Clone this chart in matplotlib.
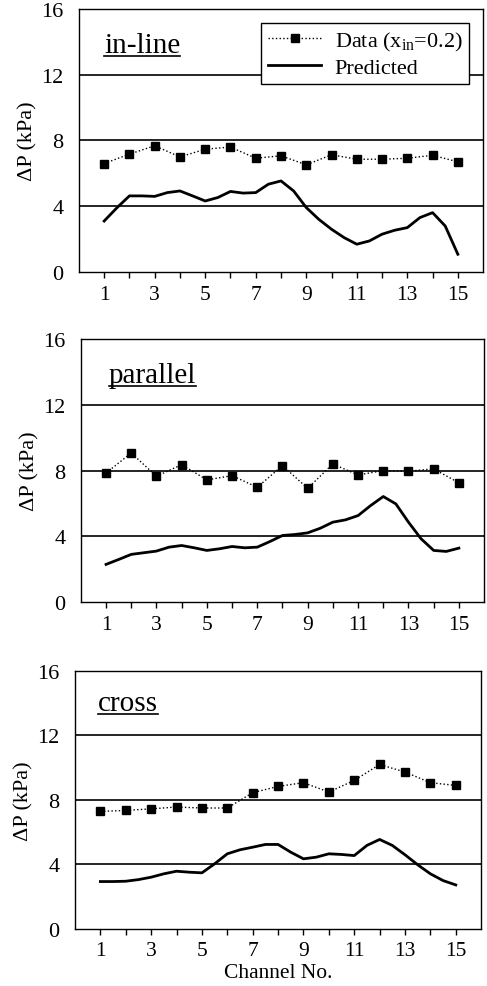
import matplotlib.pyplot as plt
import matplotlib.lines as mlines
import numpy as np

plt.rcParams['font.family'] = ['Liberation Serif', 'DejaVu Serif']
plt.rcParams['mathtext.fontset'] = 'custom'
plt.rcParams['mathtext.rm'] = 'Liberation Serif'
plt.rcParams['mathtext.it'] = 'Liberation Serif'

channels = np.arange(1, 16)
pred_x = np.arange(1, 15.01, 0.5)

# measured dP (kPa), one point per channel
data_inline = [6.6, 7.17, 7.68, 7.0, 7.47, 7.6, 6.92, 7.07, 6.52, 7.13, 6.86, 6.86, 6.92, 7.1, 6.7]
data_parallel = [7.85, 9.07, 7.65, 8.36, 7.43, 7.69, 6.98, 8.3, 6.92, 8.4, 7.73, 8.0, 7.96, 8.1, 7.25]
data_cross = [7.29, 7.35, 7.45, 7.56, 7.5, 7.5, 8.45, 8.84, 9.07, 8.49, 9.21, 10.2, 9.73, 9.07, 8.9]

# predicted dP, every half channel
pred_inline = [3.1, 3.9, 4.63, 4.63, 4.6, 4.83, 4.93, 4.63, 4.32, 4.53, 4.9, 4.8, 4.83, 5.34, 5.54,
               4.93, 3.92, 3.2, 2.6, 2.09, 1.69, 1.89, 2.3, 2.54, 2.7, 3.31, 3.61, 2.8, 1.08]
pred_parallel = [2.29, 2.59, 2.9, 3.0, 3.1, 3.34, 3.44, 3.3, 3.14, 3.24, 3.38, 3.3, 3.34, 3.68, 4.05,
                 4.11, 4.21, 4.49, 4.86, 5.0, 5.26, 5.87, 6.42, 5.97, 4.86, 3.85, 3.14, 3.08, 3.28]
pred_cross = [2.94, 2.94, 2.96, 3.06, 3.21, 3.42, 3.58, 3.52, 3.48, 4.04, 4.66, 4.91, 5.07, 5.24, 5.24,
              4.76, 4.35, 4.45, 4.66, 4.62, 4.55, 5.18, 5.55, 5.18, 4.6, 3.98, 3.42, 3.0, 2.73]

names = ['in-line', 'parallel', 'cross']
datas = [data_inline, data_parallel, data_cross]
preds = [pred_inline, pred_parallel, pred_cross]

# axes rectangles [left, bottom, width, height] in figure fraction
rects = [[0.162, 0.7234, 0.830, 0.2665],
         [0.166, 0.389, 0.828, 0.2665],
         [0.154, 0.0578, 0.834, 0.2614]]
name_pos = [(1.0, 13.4), (1.1, 13.4), (0.9, 13.6)]

fig = plt.figure(figsize=(4.87, 9.87), dpi=100)
titles = []
for i in range(3):
    ax = fig.add_axes(rects[i])
    for g in [4, 8, 12]:
        ax.axhline(g, color='black', lw=1.2, zorder=1)
    ax.plot(channels, datas[i], ls=':', color='black', lw=1.0, marker='s',
            ms=6, label='Data (x$_{\\mathrm{in}}$=0.2)', zorder=3)
    ax.plot(pred_x, preds[i], '-', color='black', lw=2.0, label='Predicted', zorder=2)
    ax.set_xlim(0, 16)
    ax.set_ylim(0, 16)
    ax.set_yticks([0, 4, 8, 12, 16])
    ax.set_xticks(np.arange(1, 16, 2))
    ax.set_xticks(np.arange(2, 15, 2), minor=True)
    ax.tick_params(axis='y', length=0, labelsize=16, pad=11)
    ax.tick_params(axis='x', which='both', direction='out', length=4, width=1,
                   labelsize=15.5, pad=5)
    for s in ax.spines.values():
        s.set_linewidth(1.0)
    ax.set_ylabel('ΔP (kPa)', fontsize=16, labelpad=3)
    t = ax.text(name_pos[i][0], name_pos[i][1], names[i], fontsize=21, ha='left', va='baseline')
    titles.append((ax, t))
    if i == 0:
        leg = ax.legend(loc='upper right', bbox_to_anchor=(0.965, 0.947), borderaxespad=0,
                        fancybox=False, edgecolor='black', framealpha=1, fontsize=16,
                        handlelength=2.4, handletextpad=0.6, borderpad=0.3,
                        labelspacing=0.2)
        leg.get_frame().set_linewidth(1.0)
    if i == 2:
        ax.set_xlabel('Channel No.', fontsize=15.5, labelpad=2)

# underline the panel names
fig.canvas.draw()
r = fig.canvas.get_renderer()
inv = fig.transFigure.inverted()
for ax, t in titles:
    bb = t.get_window_extent(renderer=r)
    x0, y0 = inv.transform((bb.x0, bb.y0 + 2))
    x1, _ = inv.transform((bb.x1, bb.y0 + 2))
    fig.add_artist(mlines.Line2D([x0, x1], [y0, y0], color='black', lw=1.2,
                                 transform=fig.transFigure))

fig.savefig('out.png', dpi=100)
